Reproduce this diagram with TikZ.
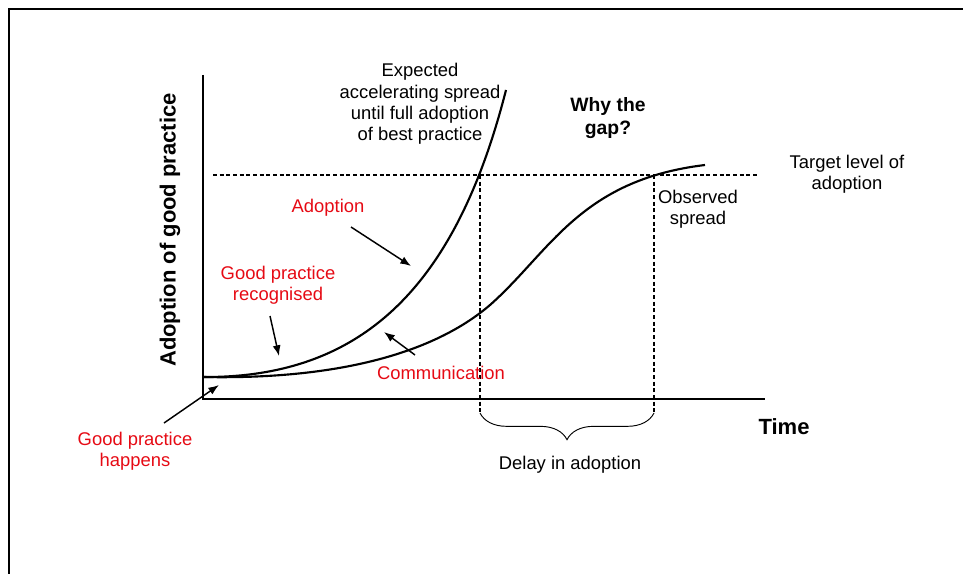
\documentclass[tikz,border=0pt]{standalone}
\usepackage{fontspec}
\setmainfont{Liberation Sans}
\usepackage{xcolor}
\usepackage{tikz}
\usetikzlibrary{
	arrows.meta,
	decorations.pathreplacing,
	positioning
}
\definecolor{LabelRed}{RGB}{230,10,20}

\tikzset{
	lbl/.style={align=center, font=\fontsize{13.8}{16}\selectfont},
	redlbl/.style={lbl, text=LabelRed},
	boldlbl/.style={align=center, font=\fontsize{16.5}{19}\selectfont\bfseries},
	pointer/.style={line width=1.1pt, -{Latex[length=8pt,width=6pt]}},
	guide/.style={line width=0.8pt, dash pattern=on 3pt off 2pt},
	curve/.style={line width=1.6pt}
}

\begin{document}
\begin{tikzpicture}[x=0.75pt, y=-0.75pt]
			\useasboundingbox (0,0) rectangle (963,574);
			% frame
			\draw[line width=1.5pt] (9,580) -- (9,9) -- (970,9);
			% axes
			\coordinate (O) at (203,399);
			\coordinate (Ytop) at (203,75);
			\coordinate (Xend) at (765,399);
			\draw[line width=2pt] (Ytop) -- (O) -- (Xend);
			% target level and delay markers
			\coordinate (T0) at (213,175);
			\coordinate (T1) at (758,175);
			\coordinate (D0) at (480,175);
			\coordinate (D1) at (654,175);
			\coordinate (B0) at (480,413);
			\coordinate (B1) at (654,413);
			\draw[guide] (T0) -- (T1);
			\draw[guide] (D0) -- (B0);
			\draw[guide] (D1) -- (B1);
			\draw[line width=0.7pt, decorate, decoration={brace, mirror, amplitude=20pt}] (B0) -- (B1);
			% expected and observed spread
			\coordinate (S) at (203,377);
			\draw[curve] (S) .. controls (360,378) and (455,290) .. (506,90);
			\draw[curve] (S) .. controls (350,380) and (440,348) .. (490,305)
				.. controls (550,252) and (580,180) .. (705,165);
			% labels
			\node[lbl] (expected) at (420,104) {Expected\\accelerating spread\\until full adoption\\of best practice};
			\node[boldlbl, font=\fontsize{14.5}{17.5}\selectfont\bfseries] (why) at (608,118) {Why the\\gap?};
			\node[lbl] (target) at (847,174) {Target level of\\adoption};
			\node[lbl] (observed) at (698,209) {Observed\\spread};
			\node[lbl] (delay) at (570,465) {Delay in adoption};
			\node[boldlbl] (time) at (784,427) {Time};
			\node[boldlbl, rotate=90] (ylabel) at (170,230) {Adoption of good practice};
			\node[redlbl] (adoption) at (328,208) {Adoption};
			\node[redlbl] (recognised) at (278,285) {Good practice\\recognised};
			\node[redlbl] (communication) at (441,373) {Communication};
			\node[redlbl] (happens) at (135,451) {Good practice\\happens};
			% pointers
			\coordinate (adoptTail) at (351,227);
			\coordinate (adoptTip) at (411,266);
			\coordinate (recogTail) at (270,316);
			\coordinate (recogTip) at (279,356);
			\coordinate (commTail) at (415,355);
			\coordinate (commTip) at (384,332);
			\coordinate (happTail) at (164,423);
			\coordinate (happTip) at (219,385);
			\draw[pointer] (adoptTail) -- (adoptTip);
			\draw[pointer] (recogTail) -- (recogTip);
			\draw[pointer] (commTail) -- (commTip);
			\draw[pointer] (happTail) -- (happTip);
		\end{tikzpicture}
\end{document}
